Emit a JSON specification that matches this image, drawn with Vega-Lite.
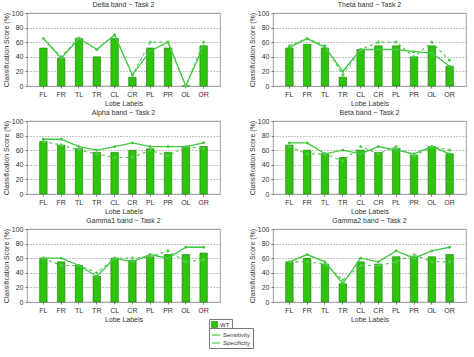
{
  "$schema": "https://vega.github.io/schema/vega-lite/v6.json",
  "background": "white",
  "padding": {"left": 1, "top": 0, "right": 4, "bottom": 2},
  "spacing": {"row": 1, "column": 26},
  "config": {
    "font": "Liberation Sans",
    "view": {"stroke": "#8a8a8a", "strokeWidth": 0.8},
    "title": {"fontSize": 7, "fontWeight": "normal", "color": "#333", "offset": 1},
    "axis": {"labelFontSize": 7, "titleFontSize": 7, "titleFontWeight": "normal", "labelColor": "#333", "titleColor": "#333", "domain": false, "tickSize": 2, "tickColor": "#777", "labelPadding": 2, "titlePadding": 2, "labelOverlap": false},
    "axisY": {"gridDash": [1, 2], "gridColor": "#888", "gridOpacity": 1, "labelFlush": false, "grid": true, "tickCount": 6, "values": [0, 20, 40, 60, 80, 100]},
    "legend": {"labelFontSize": 6, "labelColor": "#333", "title": null, "orient": "none", "strokeColor": "#777", "fillColor": "white", "padding": 2, "rowPadding": 0, "labelOffset": 2}
  },
  "datasets": {
    "scores": [
      {"band": "Delta", "lobe": "FL", "wt": 52, "sens": 65, "spec": 65},
      {"band": "Delta", "lobe": "FR", "wt": 38, "sens": 38, "spec": 40},
      {"band": "Delta", "lobe": "TL", "wt": 65, "sens": 65, "spec": 66},
      {"band": "Delta", "lobe": "TR", "wt": 40, "sens": 50, "spec": 50},
      {"band": "Delta", "lobe": "CL", "wt": 65, "sens": 70, "spec": 70},
      {"band": "Delta", "lobe": "CR", "wt": 12, "sens": 15, "spec": 15},
      {"band": "Delta", "lobe": "PL", "wt": 52, "sens": 48, "spec": 60},
      {"band": "Delta", "lobe": "PR", "wt": 52, "sens": 60, "spec": 60},
      {"band": "Delta", "lobe": "OL", "wt": 0, "sens": 0, "spec": 0},
      {"band": "Delta", "lobe": "OR", "wt": 55, "sens": 55, "spec": 60},
      {"band": "Theta", "lobe": "FL", "wt": 52, "sens": 53, "spec": 55},
      {"band": "Theta", "lobe": "FR", "wt": 57, "sens": 65, "spec": 65},
      {"band": "Theta", "lobe": "TL", "wt": 52, "sens": 53, "spec": 55},
      {"band": "Theta", "lobe": "TR", "wt": 12, "sens": 20, "spec": 15},
      {"band": "Theta", "lobe": "CL", "wt": 50, "sens": 50, "spec": 50},
      {"band": "Theta", "lobe": "CR", "wt": 55, "sens": 50, "spec": 60},
      {"band": "Theta", "lobe": "PL", "wt": 55, "sens": 50, "spec": 60},
      {"band": "Theta", "lobe": "PR", "wt": 40, "sens": 47, "spec": 40},
      {"band": "Theta", "lobe": "OL", "wt": 55, "sens": 45, "spec": 60},
      {"band": "Theta", "lobe": "OR", "wt": 27, "sens": 27, "spec": 35},
      {"band": "Alpha", "lobe": "FL", "wt": 72, "sens": 75, "spec": 72},
      {"band": "Alpha", "lobe": "FR", "wt": 67, "sens": 75, "spec": 67},
      {"band": "Alpha", "lobe": "TL", "wt": 62, "sens": 65, "spec": 60},
      {"band": "Alpha", "lobe": "TR", "wt": 57, "sens": 60, "spec": 55},
      {"band": "Alpha", "lobe": "CL", "wt": 57, "sens": 65, "spec": 50},
      {"band": "Alpha", "lobe": "CR", "wt": 60, "sens": 70, "spec": 50},
      {"band": "Alpha", "lobe": "PL", "wt": 62, "sens": 65, "spec": 60},
      {"band": "Alpha", "lobe": "PR", "wt": 57, "sens": 65, "spec": 52},
      {"band": "Alpha", "lobe": "OL", "wt": 65, "sens": 65, "spec": 65},
      {"band": "Alpha", "lobe": "OR", "wt": 65, "sens": 70, "spec": 62},
      {"band": "Beta", "lobe": "FL", "wt": 67, "sens": 70, "spec": 65},
      {"band": "Beta", "lobe": "FR", "wt": 60, "sens": 70, "spec": 55},
      {"band": "Beta", "lobe": "TL", "wt": 55, "sens": 55, "spec": 55},
      {"band": "Beta", "lobe": "TR", "wt": 50, "sens": 60, "spec": 45},
      {"band": "Beta", "lobe": "CL", "wt": 60, "sens": 55, "spec": 65},
      {"band": "Beta", "lobe": "CR", "wt": 57, "sens": 65, "spec": 55},
      {"band": "Beta", "lobe": "PL", "wt": 62, "sens": 60, "spec": 65},
      {"band": "Beta", "lobe": "PR", "wt": 53, "sens": 55, "spec": 52},
      {"band": "Beta", "lobe": "OL", "wt": 65, "sens": 65, "spec": 65},
      {"band": "Beta", "lobe": "OR", "wt": 55, "sens": 55, "spec": 60},
      {"band": "Gamma1", "lobe": "FL", "wt": 60, "sens": 60, "spec": 60},
      {"band": "Gamma1", "lobe": "FR", "wt": 55, "sens": 60, "spec": 50},
      {"band": "Gamma1", "lobe": "TL", "wt": 50, "sens": 50, "spec": 50},
      {"band": "Gamma1", "lobe": "TR", "wt": 35, "sens": 35, "spec": 40},
      {"band": "Gamma1", "lobe": "CL", "wt": 60, "sens": 60, "spec": 60},
      {"band": "Gamma1", "lobe": "CR", "wt": 57, "sens": 55, "spec": 60},
      {"band": "Gamma1", "lobe": "PL", "wt": 62, "sens": 65, "spec": 62},
      {"band": "Gamma1", "lobe": "PR", "wt": 65, "sens": 60, "spec": 70},
      {"band": "Gamma1", "lobe": "OL", "wt": 65, "sens": 75, "spec": 55},
      {"band": "Gamma1", "lobe": "OR", "wt": 67, "sens": 75, "spec": 58},
      {"band": "Gamma2", "lobe": "FL", "wt": 55, "sens": 55, "spec": 55},
      {"band": "Gamma2", "lobe": "FR", "wt": 60, "sens": 65, "spec": 55},
      {"band": "Gamma2", "lobe": "TL", "wt": 52, "sens": 55, "spec": 52},
      {"band": "Gamma2", "lobe": "TR", "wt": 25, "sens": 25, "spec": 30},
      {"band": "Gamma2", "lobe": "CL", "wt": 55, "sens": 60, "spec": 50},
      {"band": "Gamma2", "lobe": "CR", "wt": 52, "sens": 55, "spec": 50},
      {"band": "Gamma2", "lobe": "PL", "wt": 62, "sens": 70, "spec": 55},
      {"band": "Gamma2", "lobe": "PR", "wt": 62, "sens": 60, "spec": 65},
      {"band": "Gamma2", "lobe": "OL", "wt": 62, "sens": 70, "spec": 55},
      {"band": "Gamma2", "lobe": "OR", "wt": 65, "sens": 75, "spec": 55}
    ]
  },
  "data": {"name": "scores"},
  "columns": 2,
  "concat": [
    {"title": "Delta band − Task 2", "transform": [{"filter": "datum.band === 'Delta'"}], "width": 193, "height": 73,
     "encoding": {"x": {"field": "lobe", "type": "nominal", "sort": ["FL","FR","TL","TR","CL","CR","PL","PR","OL","OR"], "scale": {"paddingInner": 0.58, "paddingOuter": 0.71}, "axis": {"title": "Lobe Labels", "labelAngle": 0}}},
     "layer": [
      {"mark": {"type": "bar", "stroke": "#1d7a0a", "strokeWidth": 0.6}, "encoding": {"y": {"field": "wt", "type": "quantitative", "scale": {"domain": [0, 100]}, "axis": {"title": "Classification Score (%)"}}, "fill": {"datum": "WT", "scale": {"domain": ["WT"], "range": ["#2ec40c"]}, "legend": {"legendX": 182, "legendY": 306, "symbolType": "square", "symbolSize": 36, "symbolStrokeColor": "#1d7a0a", "symbolStrokeWidth": 0.6}}}},
      {"mark": {"type": "line", "strokeWidth": 1.3, "point": {"size": 8, "filled": true}}, "encoding": {"y": {"field": "sens", "type": "quantitative", "axis": {"title": "Classification Score (%)"}}, "color": {"datum": "Sensitivity", "scale": {"domain": ["Sensitivity","Specificity"], "range": ["#3fc93f","#55cc55"]}, "legend": {"legendX": 182, "legendY": 315, "symbolType": "stroke", "symbolSize": 64, "symbolStrokeWidth": 1.2}}}},
      {"mark": {"type": "line", "strokeWidth": 1.2, "strokeDash": [3,3], "point": {"size": 10, "filled": true, "shape": "cross"}}, "encoding": {"y": {"field": "spec", "type": "quantitative", "axis": {"title": "Classification Score (%)"}}, "color": {"datum": "Specificity"}}}
     ]},
    {"title": "Theta band − Task 2", "transform": [{"filter": "datum.band === 'Theta'"}], "width": 193, "height": 73,
     "encoding": {"x": {"field": "lobe", "type": "nominal", "sort": ["FL","FR","TL","TR","CL","CR","PL","PR","OL","OR"], "scale": {"paddingInner": 0.58, "paddingOuter": 0.71}, "axis": {"title": "Lobe Labels", "labelAngle": 0}}},
     "layer": [
      {"mark": {"type": "bar", "stroke": "#1d7a0a", "strokeWidth": 0.6}, "encoding": {"y": {"field": "wt", "type": "quantitative", "scale": {"domain": [0, 100]}, "axis": {"title": "Classification Score (%)"}}, "fill": {"datum": "WT"}}},
      {"mark": {"type": "line", "strokeWidth": 1.3, "point": {"size": 8, "filled": true}}, "encoding": {"y": {"field": "sens", "type": "quantitative", "axis": {"title": "Classification Score (%)"}}, "color": {"datum": "Sensitivity"}}},
      {"mark": {"type": "line", "strokeWidth": 1.2, "strokeDash": [3,3], "point": {"size": 10, "filled": true, "shape": "cross"}}, "encoding": {"y": {"field": "spec", "type": "quantitative", "axis": {"title": "Classification Score (%)"}}, "color": {"datum": "Specificity"}}}
     ]},
    {"title": "Alpha band − Task 2", "transform": [{"filter": "datum.band === 'Alpha'"}], "width": 193, "height": 73,
     "encoding": {"x": {"field": "lobe", "type": "nominal", "sort": ["FL","FR","TL","TR","CL","CR","PL","PR","OL","OR"], "scale": {"paddingInner": 0.58, "paddingOuter": 0.71}, "axis": {"title": "Lobe Labels", "labelAngle": 0}}},
     "layer": [
      {"mark": {"type": "bar", "stroke": "#1d7a0a", "strokeWidth": 0.6}, "encoding": {"y": {"field": "wt", "type": "quantitative", "scale": {"domain": [0, 100]}, "axis": {"title": "Classification Score (%)"}}, "fill": {"datum": "WT"}}},
      {"mark": {"type": "line", "strokeWidth": 1.3, "point": {"size": 8, "filled": true}}, "encoding": {"y": {"field": "sens", "type": "quantitative", "axis": {"title": "Classification Score (%)"}}, "color": {"datum": "Sensitivity"}}},
      {"mark": {"type": "line", "strokeWidth": 1.2, "strokeDash": [3,3], "point": {"size": 10, "filled": true, "shape": "cross"}}, "encoding": {"y": {"field": "spec", "type": "quantitative", "axis": {"title": "Classification Score (%)"}}, "color": {"datum": "Specificity"}}}
     ]},
    {"title": "Beta band − Task 2", "transform": [{"filter": "datum.band === 'Beta'"}], "width": 193, "height": 73,
     "encoding": {"x": {"field": "lobe", "type": "nominal", "sort": ["FL","FR","TL","TR","CL","CR","PL","PR","OL","OR"], "scale": {"paddingInner": 0.58, "paddingOuter": 0.71}, "axis": {"title": "Lobe Labels", "labelAngle": 0}}},
     "layer": [
      {"mark": {"type": "bar", "stroke": "#1d7a0a", "strokeWidth": 0.6}, "encoding": {"y": {"field": "wt", "type": "quantitative", "scale": {"domain": [0, 100]}, "axis": {"title": "Classification Score (%)"}}, "fill": {"datum": "WT"}}},
      {"mark": {"type": "line", "strokeWidth": 1.3, "point": {"size": 8, "filled": true}}, "encoding": {"y": {"field": "sens", "type": "quantitative", "axis": {"title": "Classification Score (%)"}}, "color": {"datum": "Sensitivity"}}},
      {"mark": {"type": "line", "strokeWidth": 1.2, "strokeDash": [3,3], "point": {"size": 10, "filled": true, "shape": "cross"}}, "encoding": {"y": {"field": "spec", "type": "quantitative", "axis": {"title": "Classification Score (%)"}}, "color": {"datum": "Specificity"}}}
     ]},
    {"title": "Gamma1 band − Task 2", "transform": [{"filter": "datum.band === 'Gamma1'"}], "width": 193, "height": 73,
     "encoding": {"x": {"field": "lobe", "type": "nominal", "sort": ["FL","FR","TL","TR","CL","CR","PL","PR","OL","OR"], "scale": {"paddingInner": 0.58, "paddingOuter": 0.71}, "axis": {"title": "Lobe Labels", "labelAngle": 0}}},
     "layer": [
      {"mark": {"type": "bar", "stroke": "#1d7a0a", "strokeWidth": 0.6}, "encoding": {"y": {"field": "wt", "type": "quantitative", "scale": {"domain": [0, 100]}, "axis": {"title": "Classification Score (%)"}}, "fill": {"datum": "WT"}}},
      {"mark": {"type": "line", "strokeWidth": 1.3, "point": {"size": 8, "filled": true}}, "encoding": {"y": {"field": "sens", "type": "quantitative", "axis": {"title": "Classification Score (%)"}}, "color": {"datum": "Sensitivity"}}},
      {"mark": {"type": "line", "strokeWidth": 1.2, "strokeDash": [3,3], "point": {"size": 10, "filled": true, "shape": "cross"}}, "encoding": {"y": {"field": "spec", "type": "quantitative", "axis": {"title": "Classification Score (%)"}}, "color": {"datum": "Specificity"}}}
     ]},
    {"title": "Gamma2 band − Task 2", "transform": [{"filter": "datum.band === 'Gamma2'"}], "width": 193, "height": 73,
     "encoding": {"x": {"field": "lobe", "type": "nominal", "sort": ["FL","FR","TL","TR","CL","CR","PL","PR","OL","OR"], "scale": {"paddingInner": 0.58, "paddingOuter": 0.71}, "axis": {"title": "Lobe Labels", "labelAngle": 0}}},
     "layer": [
      {"mark": {"type": "bar", "stroke": "#1d7a0a", "strokeWidth": 0.6}, "encoding": {"y": {"field": "wt", "type": "quantitative", "scale": {"domain": [0, 100]}, "axis": {"title": "Classification Score (%)"}}, "fill": {"datum": "WT"}}},
      {"mark": {"type": "line", "strokeWidth": 1.3, "point": {"size": 8, "filled": true}}, "encoding": {"y": {"field": "sens", "type": "quantitative", "axis": {"title": "Classification Score (%)"}}, "color": {"datum": "Sensitivity"}}},
      {"mark": {"type": "line", "strokeWidth": 1.2, "strokeDash": [3,3], "point": {"size": 10, "filled": true, "shape": "cross"}}, "encoding": {"y": {"field": "spec", "type": "quantitative", "axis": {"title": "Classification Score (%)"}}, "color": {"datum": "Specificity"}}}
     ]}
  ]
}
